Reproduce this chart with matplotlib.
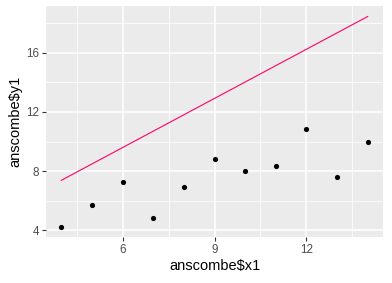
import matplotlib.pyplot as plt
import numpy as np

# anscombe x1 / y1
x1 = [10, 8, 13, 9, 11, 14, 6, 4, 12, 7, 5]
y1 = [8.04, 6.95, 7.58, 8.81, 8.33, 9.96, 7.24, 4.26, 10.84, 4.82, 5.68]

# red line
line_x = [4, 14]
line_y = [7.38, 18.45]

x_major = [6, 9, 12]
x_minor = [4.5, 7.5, 10.5, 13.5]
y_major = [4, 8, 12, 16]
y_minor = [6, 10, 14, 18]

plt.rcParams["font.family"] = ["Liberation Sans", "DejaVu Sans"]

fig = plt.figure(figsize=(3.92, 2.83), dpi=100)
ax = fig.add_axes([46 / 392, 1 - 237 / 283, (383 - 46) / 392, (237 - 6) / 283])
ax.set_facecolor("#EBEBEB")
for s in ax.spines.values():
    s.set_visible(False)

# grid
for v in x_minor:
    ax.axvline(v, color="white", lw=0.55, zorder=0)
for v in y_minor:
    ax.axhline(v, color="white", lw=0.55, zorder=0)
for v in x_major:
    ax.axvline(v, color="white", lw=1.1, zorder=0)
for v in y_major:
    ax.axhline(v, color="white", lw=1.1, zorder=0)

ax.plot(line_x, line_y, color="#FF0066", lw=0.8, zorder=2)
ax.scatter(x1, y1, s=14, color="black", zorder=3, linewidths=0)

xr = max(x1) - min(x1)
ax.set_xlim(min(x1) - 0.05 * xr, max(x1) + 0.05 * xr)
ymin = min(min(y1), min(line_y))
ymax = max(max(y1), max(line_y))
yr = ymax - ymin
ax.set_ylim(ymin - 0.05 * yr, ymax + 0.05 * yr)

ax.set_xticks(x_major)
ax.set_yticks(y_major)
ax.set_xticklabels([str(v) for v in x_major])
ax.set_yticklabels([str(v) for v in y_major])
ax.tick_params(axis="both", length=3, width=0.8, color="#333333",
               labelcolor="#4D4D4D", labelsize=8.4, pad=2)

ax.set_xlabel("anscombe$x1", fontsize=10.5, labelpad=2)
ax.set_ylabel("anscombe$y1", fontsize=10.5, labelpad=3)

fig.savefig("out.png", dpi=100)
